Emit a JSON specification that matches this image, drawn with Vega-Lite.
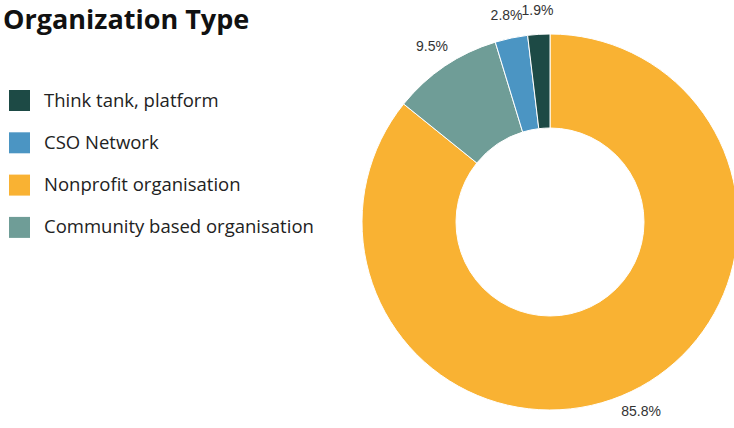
{
  "$schema": "https://vega.github.io/schema/vega-lite/v6.json",
  "autosize": {"type": "none"},
  "width": 368,
  "height": 412,
  "padding": {"left": 366, "top": 16, "right": 0, "bottom": 0},
  "background": "white",
  "data": {
    "values": [
      {"type": "Nonprofit organisation", "pct": 85.8, "ord": 1, "label": "85.8%"},
      {"type": "Community based organisation", "pct": 9.5, "ord": 2, "label": "9.5%"},
      {"type": "CSO Network", "pct": 2.8, "ord": 3, "label": "2.8%"},
      {"type": "Think tank, platform", "pct": 1.9, "ord": 4, "label": "1.9%"}
    ]
  },
  "encoding": {
    "theta": {"field": "pct", "type": "quantitative", "stack": true},
    "order": {"field": "ord", "type": "quantitative"}
  },
  "layer": [
    {
      "mark": {"type": "arc", "innerRadius": 94, "outerRadius": 188, "stroke": "white", "strokeWidth": 1},
      "encoding": {
        "color": {
          "field": "type",
          "type": "nominal",
          "scale": {
            "domain": ["Think tank, platform", "CSO Network", "Nonprofit organisation", "Community based organisation"],
            "range": ["#1d4a45", "#4b95c3", "#f9b233", "#6f9d97"]
          },
          "legend": {
            "title": "Organization Type",
            "titleFont": "Open Sans",
            "titleFontSize": 27,
            "titleFontWeight": "bold",
            "titleColor": "#111111",
            "titleLimit": 500,
            "titlePadding": 55,
            "titleBaseline": "top",
            "orient": "none",
            "legendX": -363,
            "legendY": -8,
            "symbolType": "square",
            "symbolSize": 441,
            "symbolOffset": 6,
            "symbolStrokeWidth": 0,
            "labelFont": "Open Sans",
            "labelFontSize": 18.5,
            "labelColor": "#222222",
            "labelOffset": 14,
            "rowPadding": 21.3,
            "labelLimit": 400
          }
        }
      }
    },
    {
      "mark": {"type": "text", "radius": 211, "font": "Liberation Sans", "fontSize": 14, "color": "#333333"},
      "encoding": {"text": {"field": "label", "type": "nominal"}}
    }
  ]
}
